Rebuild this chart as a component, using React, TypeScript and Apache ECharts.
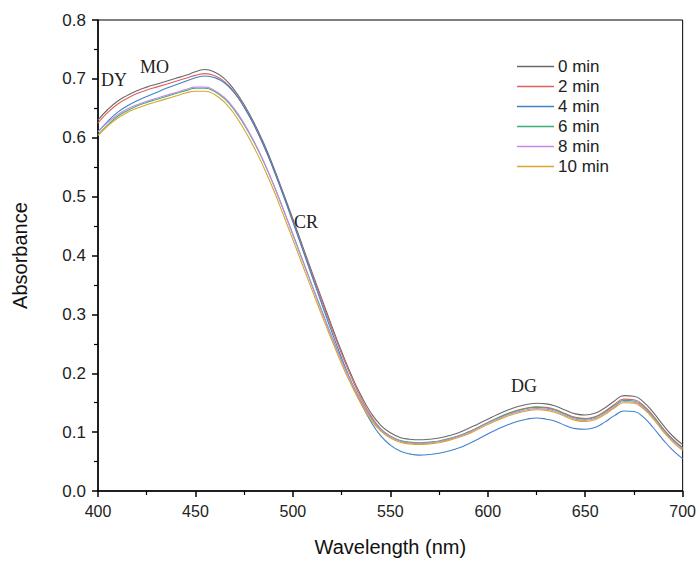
import React, { useEffect, useRef } from "react";
import * as echarts from "echarts";

const wavelengths = [
  400, 405, 410, 415, 420, 425, 430, 435, 440, 445, 450, 455, 460, 465, 470, 475, 480, 485, 490, 495,
  500, 505, 510, 515, 520, 525, 530, 535, 540, 545, 550, 555, 560, 565, 570, 575, 580, 585, 590, 595,
  600, 605, 610, 615, 620, 625, 630, 635, 640, 645, 650, 655, 660, 665, 670, 675, 680, 685, 690, 695, 700,
];

const min0 = [
  0.630, 0.648, 0.662, 0.672, 0.680, 0.686, 0.691, 0.696, 0.701, 0.706, 0.712, 0.716, 0.711, 0.700, 0.681, 0.656, 0.626, 0.591, 0.551, 0.507,
  0.462, 0.416, 0.370, 0.325, 0.280, 0.237, 0.197, 0.162, 0.133, 0.112, 0.099, 0.091, 0.088, 0.087, 0.088, 0.090, 0.094, 0.099, 0.106, 0.114,
  0.122, 0.130, 0.137, 0.143, 0.147, 0.149, 0.148, 0.144, 0.137, 0.131, 0.129, 0.132, 0.141, 0.153, 0.162, 0.161, 0.151, 0.133, 0.112, 0.093, 0.079,
];
const min2 = [
  0.625, 0.643, 0.657, 0.667, 0.675, 0.681, 0.686, 0.691, 0.696, 0.701, 0.706, 0.709, 0.705, 0.695, 0.677, 0.652, 0.622, 0.587, 0.547, 0.503,
  0.458, 0.412, 0.366, 0.321, 0.276, 0.233, 0.193, 0.157, 0.128, 0.106, 0.093, 0.085, 0.082, 0.081, 0.082, 0.084, 0.088, 0.093, 0.100, 0.108,
  0.116, 0.124, 0.131, 0.137, 0.141, 0.143, 0.142, 0.138, 0.131, 0.125, 0.123, 0.126, 0.135, 0.147, 0.156, 0.155, 0.145, 0.127, 0.106, 0.088, 0.074,
];
const min4 = [
  0.610, 0.628, 0.643, 0.654, 0.663, 0.670, 0.677, 0.684, 0.690, 0.696, 0.702, 0.705, 0.702, 0.693, 0.676, 0.652, 0.622, 0.587, 0.547, 0.503,
  0.457, 0.410, 0.363, 0.316, 0.270, 0.226, 0.185, 0.149, 0.118, 0.094, 0.078, 0.068, 0.063, 0.061, 0.062, 0.064, 0.068, 0.073, 0.080, 0.088,
  0.097, 0.105, 0.112, 0.118, 0.122, 0.124, 0.122, 0.118, 0.111, 0.106, 0.105, 0.108, 0.117, 0.128, 0.136, 0.135, 0.125, 0.107, 0.087, 0.069, 0.055,
];
const min6 = [
  0.605, 0.622, 0.636, 0.646, 0.654, 0.660, 0.665, 0.670, 0.675, 0.680, 0.684, 0.684, 0.678, 0.666, 0.647, 0.622, 0.593, 0.559, 0.521, 0.479,
  0.436, 0.392, 0.348, 0.305, 0.262, 0.222, 0.185, 0.152, 0.125, 0.105, 0.093, 0.086, 0.083, 0.082, 0.083, 0.085, 0.089, 0.094, 0.100, 0.108,
  0.116, 0.124, 0.131, 0.136, 0.140, 0.142, 0.141, 0.137, 0.130, 0.124, 0.122, 0.125, 0.134, 0.145, 0.154, 0.153, 0.143, 0.126, 0.105, 0.087, 0.073,
];
const min8 = [
  0.610, 0.626, 0.639, 0.649, 0.656, 0.662, 0.667, 0.672, 0.677, 0.682, 0.686, 0.686, 0.680, 0.668, 0.649, 0.624, 0.594, 0.560, 0.521, 0.479,
  0.435, 0.391, 0.347, 0.303, 0.261, 0.221, 0.184, 0.151, 0.124, 0.104, 0.092, 0.085, 0.082, 0.081, 0.082, 0.084, 0.088, 0.093, 0.099, 0.107,
  0.115, 0.122, 0.129, 0.134, 0.138, 0.140, 0.139, 0.135, 0.128, 0.122, 0.120, 0.123, 0.132, 0.143, 0.152, 0.151, 0.141, 0.124, 0.103, 0.085, 0.071,
];
const min10 = [
  0.604, 0.620, 0.633, 0.643, 0.650, 0.656, 0.661, 0.666, 0.671, 0.676, 0.679, 0.679, 0.673, 0.660, 0.640, 0.614, 0.584, 0.550, 0.512, 0.470,
  0.427, 0.383, 0.340, 0.297, 0.256, 0.216, 0.180, 0.148, 0.121, 0.102, 0.090, 0.083, 0.080, 0.079, 0.080, 0.082, 0.086, 0.091, 0.097, 0.105,
  0.113, 0.120, 0.127, 0.132, 0.136, 0.138, 0.137, 0.133, 0.126, 0.120, 0.118, 0.121, 0.130, 0.141, 0.150, 0.149, 0.139, 0.122, 0.101, 0.083, 0.069,
];

const seriesNames = ["0 min", "2 min", "4 min", "6 min", "8 min", "10 min"];
const seriesValues = [min0, min2, min4, min6, min8, min10];
const seriesColors = ["#6a6a6a", "#e0605f", "#3f82cc", "#3dae78", "#c58ae8", "#d8a72a"];

const annotations = [
  { text: "DY", x: 101, y: 71 },
  { text: "MO", x: 140, y: 58 },
  { text: "CR", x: 294, y: 213 },
  { text: "DG", x: 511, y: 377 },
];

const SANS = "'Liberation Sans', Arial, sans-serif";
const SERIF = "'Liberation Serif', 'Times New Roman', serif";

export default function App() {
  const ref = useRef<HTMLDivElement>(null);
  useEffect(() => {
    if (!ref.current) return;
    const chart = echarts.init(ref.current, null, { renderer: "svg" });
    chart.setOption({
      animation: false,
      backgroundColor: "#ffffff",
      grid: {
        left: 98,
        right: 16,
        top: 20,
        bottom: 74,
        show: true,
        borderColor: "#000",
        borderWidth: 1,
        backgroundColor: "transparent",
      },
      legend: {
        orient: "vertical",
        left: 517,
        top: 58,
        padding: 0,
        icon: "rect",
        itemWidth: 37,
        itemHeight: 1.5,
        itemGap: 3,
        textStyle: { fontFamily: SANS, fontSize: 17, color: "#222", padding: [0, 0, 0, -1] },
        data: seriesNames,
      },
      xAxis: {
        type: "value",
        min: 400,
        max: 700,
        interval: 50,
        name: "Wavelength (nm)",
        nameLocation: "middle",
        nameGap: 46,
        nameTextStyle: { fontFamily: SANS, fontSize: 20, color: "#111" },
        axisLine: { lineStyle: { color: "#000", width: 1.5 } },
        axisTick: { show: true, length: 6, lineStyle: { color: "#000", width: 1.5 } },
        minorTick: { show: true, splitNumber: 2, length: 4, lineStyle: { color: "#000", width: 1.2 } },
        axisLabel: { fontFamily: SANS, fontSize: 16, color: "#222", margin: 12 },
        splitLine: { show: false },
      },
      yAxis: {
        type: "value",
        min: 0,
        max: 0.8,
        interval: 0.1,
        name: "Absorbance",
        nameLocation: "middle",
        nameGap: 68,
        nameTextStyle: { fontFamily: SANS, fontSize: 20, color: "#111" },
        axisLine: { show: true, lineStyle: { color: "#000", width: 1.5 } },
        axisTick: { show: true, length: 6, lineStyle: { color: "#000", width: 1.5 } },
        minorTick: { show: true, splitNumber: 2, length: 4, lineStyle: { color: "#000", width: 1.2 } },
        axisLabel: {
          fontFamily: SANS,
          fontSize: 17,
          color: "#222",
          margin: 12,
          formatter: (v: number) => v.toFixed(1),
        },
        splitLine: { show: false },
      },
      series: seriesNames.map((name, i) => ({
        name,
        type: "line",
        smooth: true,
        symbol: "none",
        lineStyle: { color: seriesColors[i], width: 1.1 },
        itemStyle: { color: seriesColors[i] },
        data: wavelengths.map((w, j) => [w, seriesValues[i][j]]),
      })),
      graphic: annotations.map((a) => ({
        type: "text",
        x: a.x,
        y: a.y,
        style: { text: a.text, fontFamily: SERIF, fontSize: 18, fill: "#222" },
      })),
    });
    return () => chart.dispose();
  }, []);
  return (
    <div
      ref={ref}
      style={{ position: "fixed", left: 0, top: 0, width: 699, height: 565 }}
    />
  );
}
